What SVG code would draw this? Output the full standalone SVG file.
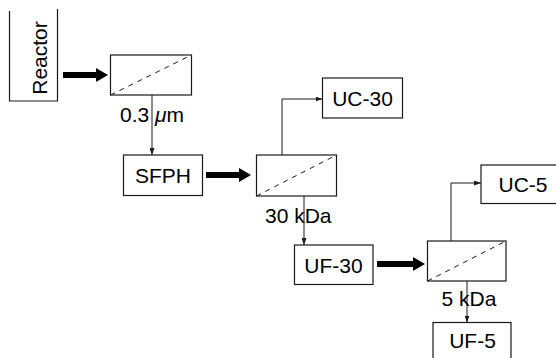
<svg xmlns="http://www.w3.org/2000/svg" width="556" height="358" viewBox="0 0 556 358">
  <style>
    .box { fill: #ffffff; stroke: #1a1a1a; stroke-width: 1.2; }
    .diag { stroke: #1a1a1a; stroke-width: 1; stroke-dasharray: 5 5; fill: none; }
    .thin { stroke: #1a1a1a; stroke-width: 1; fill: none; }
    .thick { stroke: #000000; stroke-width: 6; fill: none; }
    .lbl { font-family: "Liberation Sans", Arial, sans-serif; font-size: 21px; fill: #000000; }
    .mid { text-anchor: middle; }
  </style>
  <defs>
    <marker id="big" markerWidth="12" markerHeight="14" refX="2" refY="7" orient="auto" markerUnits="userSpaceOnUse">
      <path d="M0,0 L12,7 L0,14 z" fill="#000000"/>
    </marker>
    <marker id="small" markerWidth="7" markerHeight="5" refX="7" refY="2.5" orient="auto" markerUnits="userSpaceOnUse">
      <path d="M0,0 L7,2.5 L0,5 z" fill="#1a1a1a"/>
    </marker>
  </defs>
  <rect width="556" height="358" fill="#ffffff"/>

  <g id="connectors">
    <line class="thick" x1="63" y1="75" x2="98" y2="75" marker-end="url(#big)"/>
    <line class="thick" x1="206" y1="175" x2="241" y2="175" marker-end="url(#big)"/>
    <line class="thick" x1="377" y1="264" x2="415" y2="264" marker-end="url(#big)"/>
    <line class="thin" x1="152" y1="95" x2="152" y2="155" marker-end="url(#small)"/>
    <polyline class="thin" points="282,155 282,99 322.5,99" marker-end="url(#small)"/>
    <line class="thin" x1="304" y1="196" x2="304" y2="245" marker-end="url(#small)"/>
    <polyline class="thin" points="451,241 451,183 481,183" marker-end="url(#small)"/>
    <line class="thin" x1="467" y1="281" x2="467" y2="322.5" marker-end="url(#small)"/>
  </g>

  <g id="reactor">
    <path class="box" d="M9.5,11 V101 H57.5 V9" fill="none"/>
    <text class="lbl mid" transform="translate(46.5,58) rotate(-90)">Reactor</text>
  </g>

  <g id="filter1">
    <rect class="box" x="110.5" y="55" width="81" height="40"/>
    <line class="diag" x1="110.5" y1="95" x2="191.5" y2="55"/>
  </g>
  <text id="label-03um" class="lbl" x="120" y="122">0.3 <tspan font-style="italic">μ</tspan>m</text>

  <g id="sfph">
    <rect class="box" x="123.5" y="155" width="79" height="40.5"/>
    <text class="lbl mid" x="163" y="183">SFPH</text>
  </g>

  <g id="filter2">
    <rect class="box" x="256.5" y="155" width="80" height="41"/>
    <line class="diag" x1="256.5" y1="196" x2="336.5" y2="155"/>
  </g>
  <text id="label-30kda" class="lbl" x="265" y="223">30 kDa</text>

  <g id="uc30">
    <rect class="box" x="322.5" y="78" width="80" height="40"/>
    <text class="lbl mid" x="362.5" y="105.5">UC-30</text>
  </g>

  <g id="uf30">
    <rect class="box" x="294.5" y="245" width="78.5" height="39.5"/>
    <text class="lbl mid" x="333.5" y="272.5">UF-30</text>
  </g>

  <g id="filter3">
    <rect class="box" x="427.5" y="241" width="78.5" height="40"/>
    <line class="diag" x1="427.5" y1="281" x2="506" y2="241"/>
  </g>
  <text id="label-5kda" class="lbl" x="441.5" y="306">5 kDa</text>

  <g id="uc5">
    <rect class="box" x="481" y="165" width="82" height="38.5"/>
    <text class="lbl mid" x="523" y="191.5">UC-5</text>
  </g>

  <g id="uf5">
    <rect class="box" x="433" y="322.5" width="78" height="45"/>
    <text class="lbl mid" x="472.5" y="348">UF-5</text>
  </g>
</svg>
